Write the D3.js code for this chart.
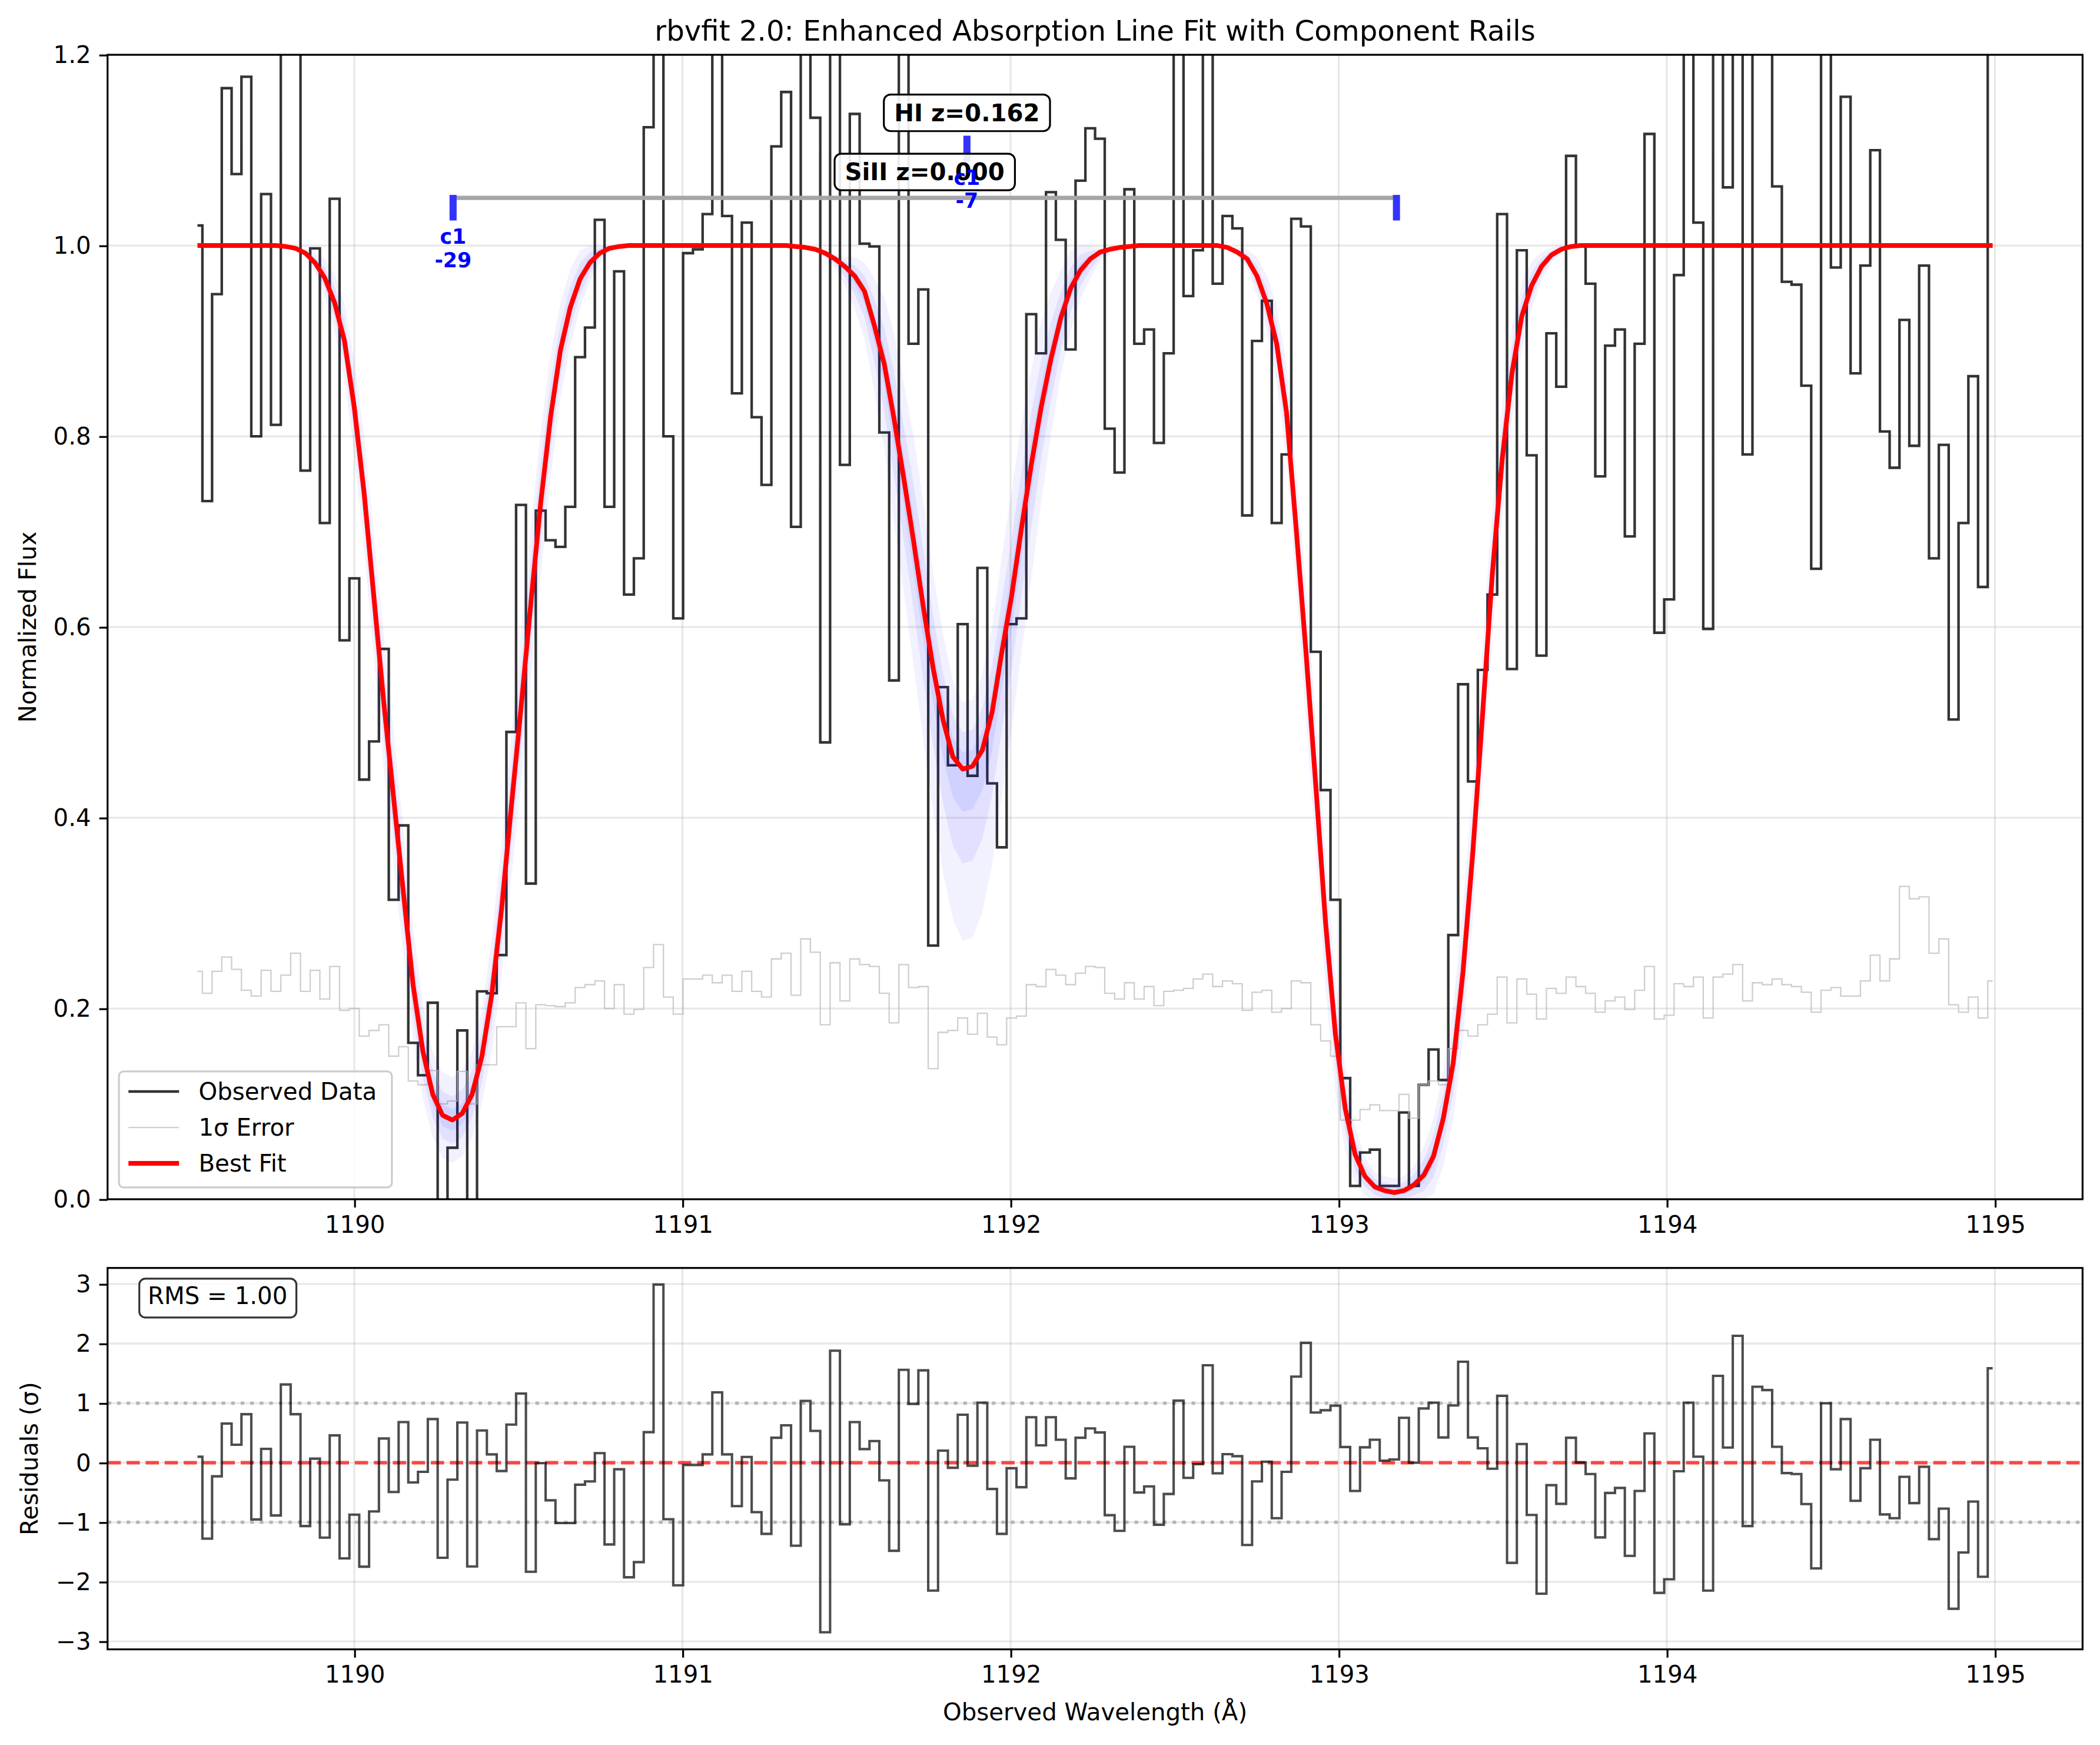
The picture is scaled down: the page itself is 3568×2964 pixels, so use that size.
<!DOCTYPE html>
<html>
<head>
<meta charset="utf-8">
<script src="https://cdn.jsdelivr.net/npm/d3@7/dist/d3.min.js"></script>
<style>
  body { margin: 0; background: #fff; }
  svg { display: block; }
</style>
</head>
<body>
<svg id="fig"></svg>
<script>
// wavelength grid (centres of the pixels), in Angstrom
const wave = [
  1189.522, 1189.552, 1189.581, 1189.611, 1189.641, 1189.671, 1189.701, 1189.731, 1189.761, 1189.791,
  1189.821, 1189.851, 1189.880, 1189.910, 1189.940, 1189.970, 1190.000, 1190.030, 1190.060, 1190.090,
  1190.120, 1190.150, 1190.179, 1190.209, 1190.239, 1190.269, 1190.299, 1190.329, 1190.359, 1190.389,
  1190.419, 1190.449, 1190.478, 1190.508, 1190.538, 1190.568, 1190.598, 1190.628, 1190.658, 1190.688,
  1190.718, 1190.748, 1190.777, 1190.807, 1190.837, 1190.867, 1190.897, 1190.927, 1190.957, 1190.987,
  1191.017, 1191.047, 1191.076, 1191.106, 1191.136, 1191.166, 1191.196, 1191.226, 1191.256, 1191.286,
  1191.316, 1191.346, 1191.375, 1191.405, 1191.435, 1191.465, 1191.495, 1191.525, 1191.555, 1191.585,
  1191.615, 1191.645, 1191.674, 1191.704, 1191.734, 1191.764, 1191.794, 1191.824, 1191.854, 1191.884,
  1191.914, 1191.944, 1191.973, 1192.003, 1192.033, 1192.063, 1192.093, 1192.123, 1192.153, 1192.183,
  1192.213, 1192.243, 1192.272, 1192.302, 1192.332, 1192.362, 1192.392, 1192.422, 1192.452, 1192.482,
  1192.512, 1192.542, 1192.571, 1192.601, 1192.631, 1192.661, 1192.691, 1192.721, 1192.751, 1192.781,
  1192.811, 1192.841, 1192.870, 1192.900, 1192.930, 1192.960, 1192.990, 1193.020, 1193.050, 1193.080,
  1193.110, 1193.140, 1193.169, 1193.199, 1193.229, 1193.259, 1193.289, 1193.319, 1193.349, 1193.379,
  1193.409, 1193.439, 1193.468, 1193.498, 1193.528, 1193.558, 1193.588, 1193.618, 1193.648, 1193.678,
  1193.708, 1193.738, 1193.767, 1193.797, 1193.827, 1193.857, 1193.887, 1193.917, 1193.947, 1193.977,
  1194.007, 1194.037, 1194.066, 1194.096, 1194.126, 1194.156, 1194.186, 1194.216, 1194.246, 1194.276,
  1194.306, 1194.336, 1194.365, 1194.395, 1194.425, 1194.455, 1194.485, 1194.515, 1194.545, 1194.575,
  1194.605, 1194.635, 1194.664, 1194.694, 1194.724, 1194.754, 1194.784, 1194.814, 1194.844, 1194.874,
  1194.904, 1194.934, 1194.963, 1194.993
];

// normalized flux
const flux = [
  1.021, 0.732, 0.949, 1.165, 1.075, 1.177, 0.800, 1.054, 0.812, 1.309,
  1.210, 0.764, 0.997, 0.709, 1.049, 0.586, 0.651, 0.440, 0.480, 0.577,
  0.314, 0.392, 0.164, 0.130, 0.206, -0.070, 0.054, 0.177, -0.050, 0.218,
  0.216, 0.256, 0.490, 0.728, 0.331, 0.722, 0.691, 0.684, 0.726, 0.883,
  0.914, 1.027, 0.726, 0.973, 0.634, 0.672, 1.124, 1.800, 0.800, 0.609,
  0.992, 0.996, 1.033, 1.268, 1.031, 0.845, 1.024, 0.820, 0.749, 1.104,
  1.161, 0.705, 1.283, 1.134, 0.479, 1.466, 0.770, 1.138, 1.002, 0.999,
  0.804, 0.544, 1.210, 0.897, 0.954, 0.266, 0.537, 0.455, 0.603, 0.444,
  0.662, 0.436, 0.369, 0.603, 0.609, 0.928, 0.887, 1.056, 1.006, 0.891,
  1.068, 1.123, 1.112, 0.808, 0.762, 1.059, 0.897, 0.912, 0.793, 0.887,
  1.228, 0.947, 0.995, 1.386, 0.960, 1.031, 1.018, 0.717, 0.900, 0.942,
  0.709, 0.781, 1.028, 1.020, 0.574, 0.429, 0.314, 0.127, 0.014, 0.049,
  0.052, 0.014, 0.014, 0.091, 0.014, 0.120, 0.157, 0.125, 0.277, 0.540,
  0.438, 0.555, 0.634, 1.033, 0.556, 0.995, 0.780, 0.570, 0.908, 0.852,
  1.094, 1.000, 0.960, 0.758, 0.895, 0.912, 0.695, 0.897, 1.117, 0.594,
  0.629, 0.969, 1.225, 1.024, 0.598, 1.340, 1.061, 1.524, 0.781, 1.289,
  1.275, 1.062, 0.962, 0.959, 0.853, 0.661, 1.219, 0.977, 1.156, 0.866,
  0.979, 1.100, 0.805, 0.767, 0.922, 0.790, 0.979, 0.672, 0.791, 0.503,
  0.709, 0.863, 0.642, 1.363
];

// 1 sigma error
const error = [
  0.239, 0.216, 0.239, 0.254, 0.241, 0.219, 0.213, 0.240, 0.218, 0.235,
  0.258, 0.218, 0.240, 0.210, 0.244, 0.198, 0.200, 0.171, 0.177, 0.183,
  0.150, 0.160, 0.124, 0.120, 0.135, 0.100, 0.103, 0.134, 0.100, 0.141,
  0.141, 0.181, 0.181, 0.206, 0.158, 0.204, 0.203, 0.202, 0.206, 0.222,
  0.225, 0.229, 0.200, 0.225, 0.194, 0.199, 0.243, 0.267, 0.212, 0.194,
  0.231, 0.231, 0.235, 0.227, 0.235, 0.218, 0.239, 0.218, 0.212, 0.252,
  0.258, 0.214, 0.273, 0.259, 0.183, 0.248, 0.208, 0.252, 0.246, 0.244,
  0.216, 0.185, 0.246, 0.222, 0.223, 0.137, 0.175, 0.177, 0.190, 0.173,
  0.195, 0.170, 0.162, 0.190, 0.192, 0.225, 0.223, 0.241, 0.235, 0.225,
  0.237, 0.244, 0.243, 0.216, 0.210, 0.227, 0.210, 0.223, 0.203, 0.218,
  0.219, 0.221, 0.231, 0.236, 0.223, 0.229, 0.226, 0.198, 0.217, 0.219,
  0.196, 0.200, 0.229, 0.227, 0.183, 0.166, 0.150, 0.083, 0.083, 0.094,
  0.099, 0.093, 0.093, 0.110, 0.085, 0.120, 0.124, 0.120, 0.158, 0.177,
  0.171, 0.183, 0.194, 0.233, 0.185, 0.231, 0.215, 0.189, 0.221, 0.216,
  0.233, 0.223, 0.216, 0.196, 0.208, 0.212, 0.199, 0.219, 0.244, 0.189,
  0.193, 0.226, 0.223, 0.233, 0.190, 0.233, 0.236, 0.246, 0.208, 0.227,
  0.225, 0.231, 0.225, 0.223, 0.217, 0.196, 0.219, 0.222, 0.213, 0.213,
  0.229, 0.256, 0.229, 0.252, 0.328, 0.315, 0.317, 0.258, 0.273, 0.204,
  0.196, 0.212, 0.190, 0.229
];

// best fit model
const model = [
  1, 1, 1, 1, 1, 1, 1, 1, 1, 0.999,
  0.997, 0.992, 0.982, 0.966, 0.940, 0.900, 0.830, 0.740, 0.630, 0.520,
  0.420, 0.320, 0.225, 0.155, 0.110, 0.088, 0.083, 0.090, 0.110, 0.150,
  0.215, 0.305, 0.410, 0.515, 0.625, 0.730, 0.820, 0.890, 0.935, 0.965,
  0.982, 0.992, 0.997, 0.999, 1, 1, 1, 1, 1, 1,
  1, 1, 1, 1, 1, 1, 1, 1, 1, 1,
  1, 0.999, 0.998, 0.996, 0.992, 0.986, 0.978, 0.968, 0.952, 0.916,
  0.876, 0.818, 0.757, 0.691, 0.621, 0.557, 0.503, 0.464, 0.451, 0.454,
  0.471, 0.511, 0.573, 0.632, 0.703, 0.770, 0.830, 0.881, 0.924, 0.955,
  0.974, 0.986, 0.993, 0.996, 0.998, 0.999, 1, 1, 1, 1,
  1, 1, 1, 1, 1, 0.998, 0.993, 0.986, 0.968, 0.939,
  0.897, 0.825, 0.705, 0.575, 0.435, 0.290, 0.173, 0.095, 0.047, 0.024,
  0.013, 0.009, 0.007, 0.009, 0.015, 0.025, 0.045, 0.085, 0.143, 0.239,
  0.365, 0.511, 0.655, 0.775, 0.866, 0.926, 0.958, 0.978, 0.990, 0.996,
  0.999, 1, 1, 1, 1, 1, 1, 1, 1, 1,
  1, 1, 1, 1, 1, 1, 1, 1, 1, 1,
  1, 1, 1, 1, 1, 1, 1, 1, 1, 1,
  1, 1, 1, 1, 1, 1, 1, 1, 1, 1,
  1, 1, 1, 1
];

// spread of the posterior sample curves below / above the best fit
const bandLo = [
  0, 0, 0, 0, 0, 0, 0, 0, 0, 0,
  0, .005, .01, .02, .03, .04, .05, .06, .065, .07,
  .07, .065, .06, .05, .045, .045, .045, .045, .045, .05,
  .06, .07, .075, .08, .08, .075, .065, .05, .04, .03,
  .02, .01, .005, 0, 0, 0, 0, 0, 0, 0,
  0, 0, 0, 0, 0, 0, 0, 0, 0, 0,
  0, 0, 0, 0, .005, .01, .02, .035, .05, .07,
  .09, .11, .12, .13, .14, .15, .16, .17, .18, .18,
  .17, .16, .15, .14, .13, .12, .10, .08, .06, .045,
  .03, .02, .01, .005, 0, 0, 0, 0, 0, 0,
  0, 0, 0, 0, 0, 0, .005, .01, .02, .03,
  .04, .05, .06, .07, .07, .07, .06, .045, .03, .02,
  .015, .015, .015, .015, .02, .03, .04, .05, .06, .07,
  .07, .07, .07, .06, .05, .035, .025, .015, .008, .004,
  0, 0, 0, 0, 0, 0, 0, 0, 0, 0,
  0, 0, 0, 0, 0, 0, 0, 0, 0, 0,
  0, 0, 0, 0, 0, 0, 0, 0, 0, 0,
  0, 0, 0, 0, 0, 0, 0, 0, 0, 0,
  0, 0, 0, 0
];
const bandHi = [
  0, 0, 0, 0, 0, 0, 0, 0, 0, 0,
  0, .005, .01, .02, .03, .04, .05, .06, .065, .07,
  .07, .065, .06, .05, .045, .045, .045, .045, .045, .05,
  .06, .07, .075, .08, .08, .075, .065, .05, .04, .03,
  .02, .01, .005, 0, 0, 0, 0, 0, 0, 0,
  0, 0, 0, 0, 0, 0, 0, 0, 0, 0,
  0, 0, 0, 0, 0, .005, .01, .02, .03, .05,
  .07, .09, .10, .11, .11, .10, .09, .08, .07, .07,
  .08, .09, .10, .11, .11, .10, .09, .07, .05, .04,
  .03, .015, .005, 0, 0, 0, 0, 0, 0, 0,
  0, 0, 0, 0, 0, 0, .005, .01, .02, .03,
  .04, .05, .06, .07, .07, .07, .06, .045, .03, .02,
  .015, .015, .015, .015, .02, .03, .04, .05, .06, .07,
  .07, .07, .07, .06, .05, .035, .025, .015, .008, .004,
  0, 0, 0, 0, 0, 0, 0, 0, 0, 0,
  0, 0, 0, 0, 0, 0, 0, 0, 0, 0,
  0, 0, 0, 0, 0, 0, 0, 0, 0, 0,
  0, 0, 0, 0, 0, 0, 0, 0, 0, 0,
  0, 0, 0, 0
];

// normalized residuals (sigma)
const resid = [
  0.100, -1.275, -0.229, 0.657, 0.301, 0.814, -0.953, 0.233, -0.886, 1.314,
  0.814, -1.064, 0.068, -1.258, 0.458, -1.606, -0.873, -1.746, -0.818, 0.407,
  -0.492, 0.682, -0.331, -0.153, 0.733, -1.597, -0.284, 0.674, -1.742, 0.542,
  0.140, -0.140, 0.640, 1.161, -1.831, -0.008, -0.631, -1.013, -1.013, -0.369,
  -0.314, 0.161, -1.373, -0.110, -1.924, -1.669, 0.513, 2.992, -0.949, -2.059,
  -0.038, -0.038, 0.140, 1.182, 0.140, -0.729, 0.097, -0.831, -1.195, 0.419,
  0.627, -1.394, 1.038, 0.534, -2.847, 1.881, -1.034, 0.682, 0.229, 0.364,
  -0.297, -1.479, 1.559, 0.987, 1.551, -2.148, 0.203, -0.085, 0.805, -0.051,
  1.008, -0.441, -1.195, -0.093, -0.411, 0.763, 0.292, 0.763, 0.386, -0.263,
  0.419, 0.576, 0.508, -0.881, -1.144, 0.267, -0.500, -0.398, -1.042, -0.525,
  1.042, -0.254, -0.025, 1.636, -0.178, 0.144, 0.110, -1.381, -0.314, 0.017,
  -0.932, -0.153, 1.445, 2.013, 0.843, 0.881, 0.958, 0.263, -0.475, 0.258,
  0.386, 0.034, 0.055, 0.754, 0.000, 0.911, 1.008, 0.424, 0.962, 1.695,
  0.424, 0.242, -0.102, 1.123, -1.682, 0.314, -0.877, -2.199, -0.377, -0.691,
  0.419, 0.004, -0.191, -1.254, -0.508, -0.424, -1.564, -0.475, 0.492, -2.186,
  -1.958, -0.144, 1.008, 0.102, -2.148, 1.458, 0.254, 2.131, -1.064, 1.275,
  1.220, 0.267, -0.174, -0.191, -0.695, -1.775, 0.999, -0.110, 0.733, -0.640,
  -0.093, 0.386, -0.869, -0.932, -0.237, -0.678, -0.068, -1.284, -0.771, -2.453,
  -1.508, -0.653, -1.915, 1.585
];

// component rails
const compNames = ["SiII", "HI"];
const compZ = ["0.000", "0.162"];
const compWaves = [[1190.301, 1193.176], [1191.867]];
const compRailY = [1.05, 1.112];
const compLabel = ["c1", "c1"];
const compVel = [-29, -7];

// ticks
const xTicks = [1190, 1191, 1192, 1193, 1194, 1195];
const fluxTicks = [0, 0.2, 0.4, 0.6, 0.8, 1.0, 1.2];
const residTicks = [-3, -2, -1, 0, 1, 2, 3];
const rmsText = "RMS = 1.00";

// ---- layout (drawn in a 1568 wide box, scaled up to 3568 px)
const W = 1568, H = 1302.6;
const FONT = "DejaVu Sans, sans-serif";
const FS = 17.7;
const L = 80.3, R = 1555;
const top1 = 40.9, bot1 = 895.2, top2 = 946.5, bot2 = 1231.2;

const svg = d3.select("#fig")
  .attr("width", 3568).attr("height", 2964)
  .attr("viewBox", `0 0 ${W} ${H}`)
  .style("font-family", FONT);
svg.append("rect").attr("width", W).attr("height", H).attr("fill", "#fff");

const x = d3.scaleLinear().domain([1189.248, 1195.267]).range([L, R]);
const yF = d3.scaleLinear().domain([0, 1.2]).range([bot1, top1]);
const yR = d3.scaleLinear().domain([-3.134, 3.27]).range([bot2, top2]);

// grid + clip for one panel
function panelBase(y, yt, t, b, id) {
  const g = svg.append("g").attr("stroke", "#b0b0b0").attr("stroke-opacity", 0.3).attr("stroke-width", 1.4);
  g.selectAll(null).data(xTicks).join("line")
    .attr("x1", d => x(d)).attr("x2", d => x(d)).attr("y1", t).attr("y2", b);
  g.selectAll(null).data(yt).join("line")
    .attr("x1", L).attr("x2", R).attr("y1", d => y(d)).attr("y2", d => y(d));
  svg.append("clipPath").attr("id", id).append("rect")
    .attr("x", L).attr("y", t).attr("width", R - L).attr("height", b - t);
}

function panelAxes(y, yt, fmt, t, b) {
  const ax = svg.append("g").attr("transform", `translate(0,${b})`)
    .call(d3.axisBottom(x).tickValues(xTicks).tickFormat(d3.format("d")).tickSize(6.2).tickPadding(6.2));
  const ay = svg.append("g").attr("transform", `translate(${L},0)`)
    .call(d3.axisLeft(y).tickValues(yt).tickFormat(fmt).tickSize(6.2).tickPadding(6.2));
  [ax, ay].forEach(a => {
    a.select(".domain").remove();
    a.attr("font-size", FS).attr("font-family", FONT);
    a.selectAll("line").attr("stroke", "#000").attr("stroke-width", 1.4);
    a.selectAll("text").attr("fill", "#000");
  });
  svg.append("rect").attr("x", L).attr("y", t).attr("width", R - L).attr("height", b - t)
    .attr("fill", "none").attr("stroke", "#000").attr("stroke-width", 1.4);
}

const stepPath = (y, vals) => d3.line()
  .x((d, i) => x(wave[i])).y(d => y(d)).curve(d3.curveStep)(vals);

// ================= top panel
panelBase(yF, fluxTicks, top1, bot1, "clipTop");
const gTop = svg.append("g").attr("clip-path", "url(#clipTop)");

gTop.append("path").attr("d", stepPath(yF, flux))
  .attr("fill", "none").attr("stroke", "#000").attr("stroke-opacity", 0.8).attr("stroke-width", 1.9);
gTop.append("path").attr("d", stepPath(yF, error))
  .attr("fill", "none").attr("stroke", "#bdbdbd").attr("stroke-opacity", 0.75).attr("stroke-width", 1.0);

// posterior sample spread
[[1, 0.05], [0.55, 0.065], [0.25, 0.07]].forEach(([k, op]) => {
  const area = d3.area()
    .x((d, i) => x(wave[i]))
    .y0((d, i) => yF(Math.max(0, model[i] - k * bandLo[i])))
    .y1((d, i) => yF(Math.min(1, model[i] + k * bandHi[i])));
  gTop.append("path").attr("d", area(model)).attr("fill", "#0000ff").attr("fill-opacity", op);
});

gTop.append("path")
  .attr("d", d3.line().x((d, i) => x(wave[i])).y(d => yF(d))(model))
  .attr("fill", "none").attr("stroke", "#ff0000").attr("stroke-width", 3.5).attr("stroke-linejoin", "round");

// rails and component ticks
compNames.forEach((name, k) => {
  const ws = compWaves[k], ry = yF(compRailY[k]);
  if (ws.length > 1) {
    gTop.append("line").attr("x1", x(d3.min(ws))).attr("x2", x(d3.max(ws)))
      .attr("y1", ry).attr("y2", ry).attr("stroke", "#a6a6a6").attr("stroke-width", 3.2);
  }
  ws.forEach(w => gTop.append("line").attr("x1", x(w)).attr("x2", x(w))
    .attr("y1", ry - 2.2).attr("y2", ry + 16.9).attr("stroke", "#3333ff").attr("stroke-width", 5.3));
});

// ion labels in boxes
compNames.forEach((name, k) => {
  const cx = x(d3.mean(compWaves[k])), ry = yF(compRailY[k]);
  const g = svg.append("g");
  const t = g.append("text").attr("x", cx).attr("y", ry - 13.1)
    .attr("text-anchor", "middle").attr("font-weight", "bold").attr("font-size", FS).attr("fill", "#000")
    .text(`${name} z=${compZ[k]}`);
  const tw = t.node().getComputedTextLength();
  g.insert("rect", "text").attr("x", cx - tw / 2 - 7.7).attr("y", ry - 19.3 - 13.65)
    .attr("width", tw + 15.4).attr("height", 27.3).attr("rx", 5)
    .attr("fill", "#fff").attr("fill-opacity", 0.9).attr("stroke", "#000").attr("stroke-width", 1.4);
});

// component id / velocity labels
compNames.forEach((name, k) => {
  const px = x(compWaves[k][0]), ry = yF(compRailY[k]);
  const t = svg.append("text").attr("text-anchor", "middle").attr("fill", "#0000ff")
    .attr("font-weight", "bold").attr("font-size", 15.3);
  t.append("tspan").attr("x", px).attr("y", ry + 34.3).text(compLabel[k]);
  t.append("tspan").attr("x", px).attr("y", ry + 51.8).text(String(compVel[k]));
});

panelAxes(yF, fluxTicks, d3.format(".1f"), top1, bot1);

// legend
const lg = svg.append("g");
lg.append("rect").attr("x", 88.8).attr("y", 799.8).attr("width", 203.8).attr("height", 86.6).attr("rx", 3.5)
  .attr("fill", "#fff").attr("fill-opacity", 0.8).attr("stroke", "#cccccc").attr("stroke-width", 1.4);
const legItems = [
  { label: "Observed Data", color: "#333333", w: 1.9, y: 814.8 },
  { label: "1σ Error", color: "#d0d0d0", w: 1.0, y: 841.6 },
  { label: "Best Fit", color: "#ff0000", w: 3.5, y: 868.4 }
];
legItems.forEach(d => {
  lg.append("line").attr("x1", 95.9).attr("x2", 133.7).attr("y1", d.y).attr("y2", d.y)
    .attr("stroke", d.color).attr("stroke-width", d.w);
  lg.append("text").attr("x", 148.3).attr("y", d.y + 6.3).attr("font-size", FS).attr("fill", "#000").text(d.label);
});

// ================= residual panel
panelBase(yR, residTicks, top2, bot2, "clipRes");
const gRes = svg.append("g").attr("clip-path", "url(#clipRes)");
gRes.append("line").attr("x1", L).attr("x2", R).attr("y1", yR(0)).attr("y2", yR(0))
  .attr("stroke", "#ff0000").attr("stroke-opacity", 0.7).attr("stroke-width", 2.6).attr("stroke-dasharray", "9.9 4.3");
[-1, 1].forEach(v => gRes.append("line").attr("x1", L).attr("x2", R).attr("y1", yR(v)).attr("y2", yR(v))
  .attr("stroke", "#808080").attr("stroke-opacity", 0.5).attr("stroke-width", 2.6).attr("stroke-dasharray", "2.7 4.4"));
gRes.append("path").attr("d", stepPath(yR, resid))
  .attr("fill", "none").attr("stroke", "#000").attr("stroke-opacity", 0.7).attr("stroke-width", 1.8);

const rmsG = svg.append("g");
const rt = rmsG.append("text").attr("x", 110.3).attr("y", 973.4).attr("font-size", FS).attr("fill", "#000").text(rmsText);
const rw = rt.node().getComputedTextLength();
rmsG.insert("rect", "text").attr("x", 104).attr("y", 954.5).attr("width", rw + 13).attr("height", 29).attr("rx", 4.5)
  .attr("fill", "#fff").attr("fill-opacity", 0.8).attr("stroke", "#000").attr("stroke-opacity", 0.8).attr("stroke-width", 1.4);

panelAxes(yR, residTicks, d3.format("d"), top2, bot2);

// ================= titles
svg.append("text").attr("x", (L + R) / 2).attr("y", 30.4).attr("text-anchor", "middle")
  .attr("font-size", 21.2).attr("fill", "#000")
  .text("rbvfit 2.0: Enhanced Absorption Line Fit with Component Rails");
svg.append("text").attr("x", (L + R) / 2).attr("y", 1284).attr("text-anchor", "middle")
  .attr("font-size", FS).attr("fill", "#000").text("Observed Wavelength (Å)");
svg.append("text").attr("transform", `translate(27,${(top1 + bot1) / 2}) rotate(-90)`).attr("text-anchor", "middle")
  .attr("font-size", FS).attr("fill", "#000").text("Normalized Flux");
svg.append("text").attr("transform", `translate(28,${(top2 + bot2) / 2}) rotate(-90)`).attr("text-anchor", "middle")
  .attr("font-size", FS).attr("fill", "#000").text("Residuals (σ)");
</script>
</body>
</html>
